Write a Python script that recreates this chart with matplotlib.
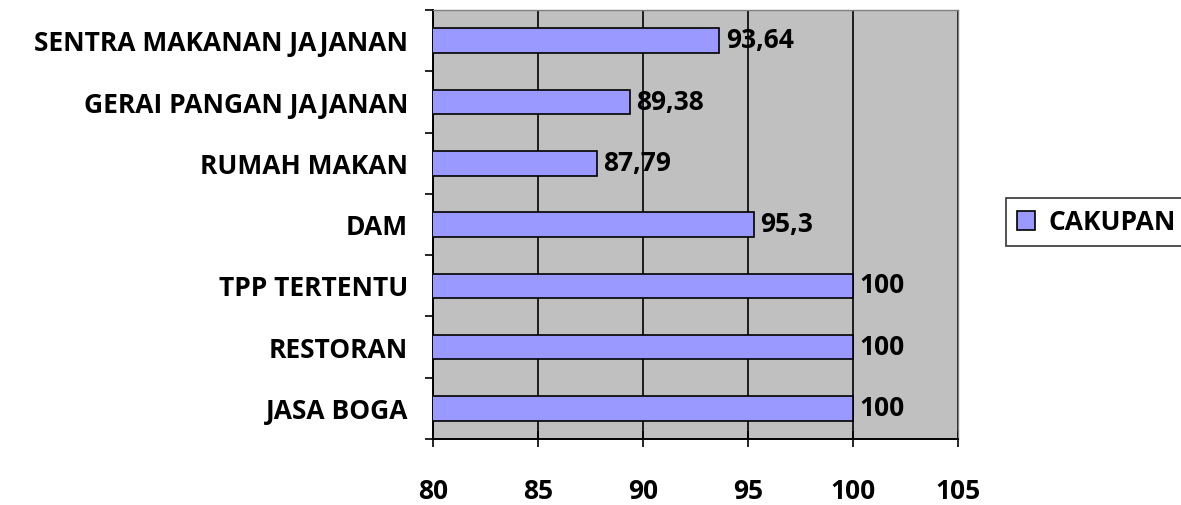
import numpy as np
import matplotlib.pyplot as plt

categories = ["JASA BOGA", "RESTORAN", "TPP TERTENTU", "DAM",
              "RUMAH MAKAN", "GERAI PANGAN JAJANAN", "SENTRA MAKANAN JAJANAN"]
cakupan = [100, 100, 100, 95.3, 87.79, 89.38, 93.64]
value_labels = ["100", "100", "100", "95,3", "87,79", "89,38", "93,64"]
x_ticks = [80, 85, 90, 95, 100, 105]

plt.rcParams['font.family'] = ['Open Sans', 'DejaVu Sans']
plt.rcParams['font.weight'] = 'bold'
FS = 19

fig = plt.figure(figsize=(11.81, 5.05), dpi=100)
ax = fig.add_axes([0.3666, 0.1307, 0.8112 - 0.3666, 0.980 - 0.1307])
ax.set_facecolor('#c0c0c0')

y = np.arange(len(categories))
bars = ax.barh(y, cakupan, height=0.4, left=0, color='#9999ff',
               edgecolor='black', linewidth=1.2, label='CAKUPAN', zorder=3)
ax.set_xlim(80, 105)
ax.set_ylim(-0.5, len(categories) - 0.5)

for yi, v, lab in zip(y, cakupan, value_labels):
    ax.text(v + 0.3, yi, lab, va='center', ha='left', fontsize=FS,
            fontweight='bold', zorder=4)

ax.set_xticks(x_ticks)
ax.set_xticklabels([str(t) for t in x_ticks], fontsize=FS, fontweight='bold')
ax.set_yticks(np.arange(len(categories) + 1) - 0.5, minor=False)
ax.set_yticklabels([])
ax.set_yticks(y, minor=True)
ax.set_yticklabels(categories, minor=True, fontsize=FS, fontweight='bold')
ax.tick_params(axis='y', which='minor', length=0, pad=18)
ax.tick_params(axis='y', which='major', length=6, width=1.2, direction='out')
ax.tick_params(axis='x', length=12, width=1.2, direction='inout', pad=22)

ax.xaxis.grid(True, color='black', linewidth=1.2, zorder=1)
ax.set_axisbelow(True)
for side in ['left', 'bottom']:
    ax.spines[side].set_linewidth(1.4)
    ax.spines[side].set_color('black')
for side in ['top', 'right']:
    ax.spines[side].set_linewidth(1.0)
    ax.spines[side].set_color('#808080')

leg = fig.legend(handles=[bars], labels=['CAKUPAN'], loc='center left',
                 bbox_to_anchor=(1006 / 1181, 1 - 222 / 505), frameon=True,
                 fancybox=False, edgecolor='black', fontsize=FS,
                 handlelength=0.7, handleheight=0.7, handletextpad=0.5,
                 borderpad=0.4, borderaxespad=0)
leg.get_frame().set_linewidth(1.2)

fig.savefig('out.png', dpi=100)
